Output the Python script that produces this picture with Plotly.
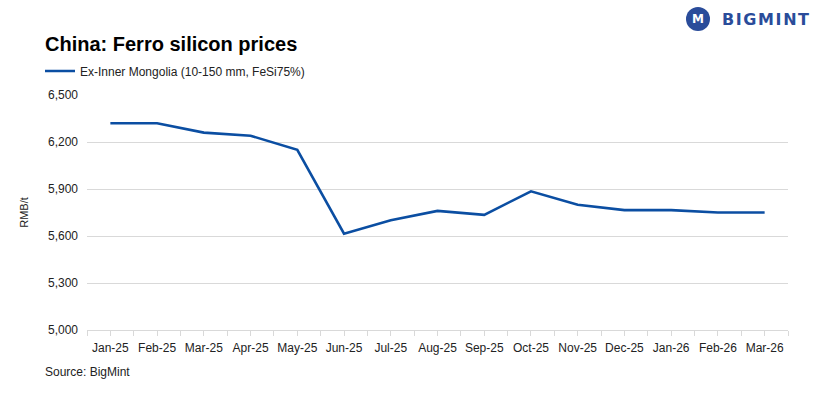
import plotly.graph_objects as go

months = ["Jan-25", "Feb-25", "Mar-25", "Apr-25", "May-25", "Jun-25", "Jul-25",
          "Aug-25", "Sep-25", "Oct-25", "Nov-25", "Dec-25", "Jan-26", "Feb-26", "Mar-26"]
prices = [6320, 6320, 6260, 6240, 6150, 5615, 5700, 5760, 5735, 5885, 5800, 5765, 5765, 5750, 5750]
y_ticks = [5000, 5300, 5600, 5900, 6200, 6500]
series_name = "Ex-Inner Mongolia (10-150 mm, FeSi75%)"
logo_text = "BIGMINT"

FONT = "Liberation Sans, Arial, sans-serif"
BLUE = "#0B4EA2"
GRID = "#D9D9D9"

L, R, T, B = 87, 33, 95, 69
PW, PH = 821 - L - R, 399 - T - B


def px(x):
    return (x - L) / PW


def py(y):
    return (399 - B - y) / PH


fig = go.Figure()
fig.add_trace(go.Scatter(x=months, y=prices, mode="lines", name=series_name,
                         line=dict(color=BLUE, width=2.6), xaxis="x", yaxis="y"))
fig.add_trace(go.Scatter(x=months, y=prices, mode="lines", showlegend=False,
                         line=dict(color="rgba(0,0,0,0)", width=0), hoverinfo="skip",
                         xaxis="x2", yaxis="y"))

fig.update_layout(
    width=821, height=399,
    margin=dict(l=L, r=R, t=T, b=B, autoexpand=False),
    paper_bgcolor="white", plot_bgcolor="white",
    font=dict(family=FONT, size=12, color="#222222"),
    showlegend=True,
    legend=dict(x=px(40), y=py(71), xanchor="left", yanchor="middle", orientation="h",
                font=dict(size=12, color="#222222"), bgcolor="rgba(0,0,0,0)",
                itemwidth=30),
    xaxis=dict(type="category", categoryorder="array", categoryarray=months,
               range=[-0.5, len(months) - 0.5], automargin=False, tickangle=0,
               showgrid=False, showline=True, linecolor=GRID, linewidth=1,
               ticks="outside", tickson="boundaries", ticklen=5, tickcolor=GRID,
               tickfont=dict(size=12, color="#222222"), ticklabelstandoff=7,
               zeroline=False, fixedrange=True),
    xaxis2=dict(type="category", categoryorder="array", categoryarray=months,
                range=[-0.5, len(months) - 0.5], overlaying="x", side="bottom",
                anchor="y", automargin=False, showgrid=False, showline=False,
                showticklabels=False, ticks="outside", ticklen=5, tickcolor=GRID,
                zeroline=False),
    yaxis=dict(range=[5000, 6500], tickvals=y_ticks, tickformat=",", automargin=False,
               showgrid=True, gridcolor=GRID, gridwidth=1, zeroline=False,
               showline=False, ticks="", ticklabelstandoff=8,
               tickfont=dict(size=12, color="#222222"),
               title=dict(text="RMB/t", font=dict(size=11, color="#222222"), standoff=17)),
)

fig.add_annotation(text="<b>China: Ferro silicon prices</b>", xref="paper", yref="paper",
                   x=px(43), y=py(44), xanchor="left", yanchor="middle", showarrow=False,
                   font=dict(family=FONT, size=20, color="#000000"))

fig.add_annotation(text="Source: BigMint", xref="paper", yref="paper",
                   x=px(43), y=py(372), xanchor="left", yanchor="middle",
                   showarrow=False, font=dict(size=12, color="#222222"))

# logo
fig.add_annotation(text="<b>" + "\u200a".join(logo_text) + "</b>", xref="paper", yref="paper",
                   x=px(720), y=py(19), xanchor="left", yanchor="middle",
                   showarrow=False, font=dict(family="DejaVu Sans, sans-serif", size=16, color="#2A4C9A"))
fig.add_shape(type="circle", xref="paper", yref="paper",
              x0=px(686), x1=px(710), y0=py(31), y1=py(7),
              fillcolor="#2A4C9A", line=dict(width=0))
fig.add_annotation(text="<b>M</b>", xref="paper", yref="paper",
                   x=px(698), y=py(19), xanchor="center", yanchor="middle",
                   showarrow=False, font=dict(family="DejaVu Sans, sans-serif", size=12, color="white"))

fig.write_html("out.html", config={"displayModeBar": False},
               post_script="document.body.style.margin='0';document.body.style.padding='0';")
